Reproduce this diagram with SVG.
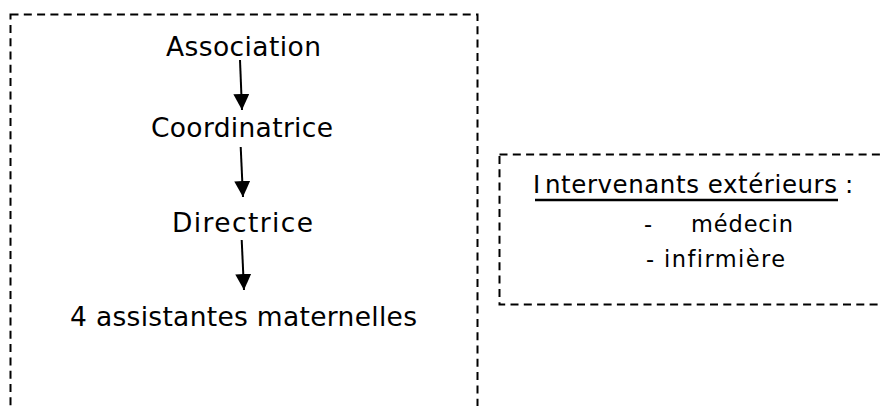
<svg xmlns="http://www.w3.org/2000/svg" width="882" height="406" viewBox="0 0 882 406">
<defs>
<style>
.box{fill:none;stroke:#000;stroke-width:2;stroke-dasharray:8 5.3}
.t{font-family:"DejaVu Sans","Liberation Sans",sans-serif;fill:#000;font-variant-ligatures:none}
.big{font-size:26.5px}
.hd{font-size:24.5px}
.sm{font-size:22.5px}
.edge{stroke:#000;stroke-width:2;fill:none}
</style>
<marker id="ah" viewBox="0 0 16 16" refX="16" refY="8" markerWidth="16" markerHeight="16" markerUnits="userSpaceOnUse" orient="auto">
<path d="M0,0 L16,8 L0,16 Z" fill="#000"/>
</marker>
</defs>
<rect width="882" height="406" fill="#fff"/>
<g id="orgbox">
<rect class="box" x="10.5" y="14.5" width="467" height="420"/>
</g>
<g id="extbox">
<rect class="box" x="499.5" y="154.5" width="400" height="150"/>
</g>
<g id="association"><text class="t big" x="166" y="56" textLength="155" lengthAdjust="spacing">Association</text></g>
<g id="coordinatrice"><text class="t big" x="151" y="137" textLength="182" lengthAdjust="spacing">Coordinatrice</text></g>
<g id="directrice"><text class="t big" x="172" y="232" textLength="141" lengthAdjust="spacing">Directrice</text></g>
<g id="assistantes"><text class="t big" x="70" y="326" textLength="347" lengthAdjust="spacing">4 assistantes maternelles</text></g>
<g id="intervenants">
<text class="t hd" x="533" y="193">I</text>
<text class="t hd" x="545" y="193" textLength="292" lengthAdjust="spacing">ntervenants extérieurs</text>
<text class="t hd" x="845" y="193">:</text>
<line x1="535" y1="200" x2="838" y2="200" stroke="#000" stroke-width="2.5"/>
<text class="t sm" x="644" y="232">-</text>
<text class="t sm" x="691" y="232" textLength="102" lengthAdjust="spacing">médecin</text>
<text class="t sm" x="646" y="267" textLength="139" lengthAdjust="spacing">- infirmière</text>
</g>
<g id="connectors">
<line class="edge" x1="240" y1="60" x2="242" y2="110" marker-end="url(#ah)"/>
<line class="edge" x1="240.7" y1="147" x2="243" y2="197" marker-end="url(#ah)"/>
<line class="edge" x1="241.7" y1="240" x2="244" y2="290" marker-end="url(#ah)"/>
</g>
</svg>
